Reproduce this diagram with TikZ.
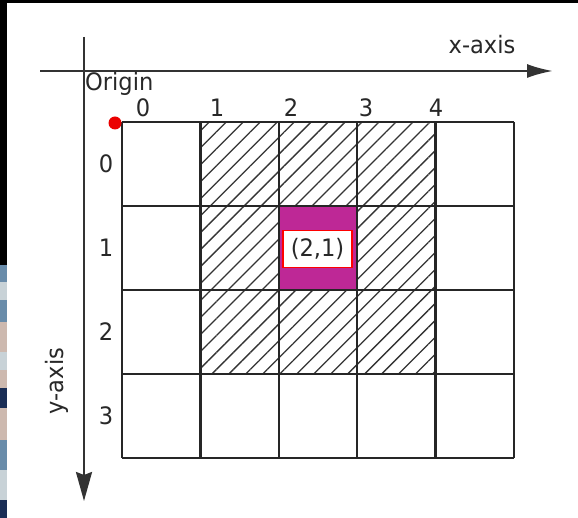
\documentclass[tikz,border=0pt]{standalone}
\usepackage{fontspec}
\setmainfont{DejaVu Sans}[FakeStretch=0.94]
\usetikzlibrary{arrows.meta,patterns.meta}
\definecolor{cellmagenta}{RGB}{190,40,150}
\definecolor{dotred}{RGB}{235,0,0}
\definecolor{inkgray}{RGB}{40,40,40}
\definecolor{photonavy}{RGB}{25,45,85}
\definecolor{photoblue}{RGB}{105,140,170}
\definecolor{photopale}{RGB}{200,210,215}
\definecolor{photobeige}{RGB}{205,185,175}

\begin{document}
\begin{tikzpicture}[
  x={(1pt,0pt)},
  y={(0pt,-1pt)},
  font=\fontsize{24}{28}\selectfont,
  text=inkgray,
  inner sep=0pt,
  gridline/.style={line width=2.3pt,black!85},
  axisline/.style={line width=2.3pt,black!80},
  hatched/.style={pattern={Lines[angle=45,distance=12pt,line width=1.3pt]},
    pattern color=black!80}
]
  \def\cellw{78.4}
  \def\cellh{84}
  \def\gx{122}
  \def\gy{122}

  \useasboundingbox (0,0) rectangle (578,518);
  \fill[white] (0,0) rectangle (578,518);
  \fill[black] (0,0) rectangle (578,3);
  \fill[black] (0,0) rectangle (7,265);
  \foreach \ya/\yb/\c in {
    265/282/photoblue, 282/300/photopale, 300/322/photoblue,
    322/352/photobeige, 352/370/photopale, 370/388/photobeige,
    388/408/photonavy, 408/440/photobeige, 440/470/photoblue,
    470/500/photopale, 500/518/photonavy} {
    \fill[\c] (0,\ya) rectangle (7,\yb);
  }

  \foreach \i/\j in {1/0,2/0,3/0,1/1,3/1,1/2,2/2,3/2} {
    \fill[hatched] ({\gx+\i*\cellw},{\gy+\j*\cellh}) rectangle +(\cellw,\cellh);
  }
  \fill[cellmagenta] ({\gx+2*\cellw},{\gy+\cellh}) rectangle +(\cellw,\cellh);

  \foreach \i in {0,...,5} {
    \draw[gridline] ({\gx+\i*\cellw},\gy) -- ++(0,{4*\cellh});
  }
  \foreach \j in {0,...,4} {
    \draw[gridline] (\gx,{\gy+\j*\cellh}) -- ++({5*\cellw},0);
  }

  \node[draw=red,line width=1.6pt,fill=white,minimum width=69pt,
    minimum height=37pt] (cell21) at (317.5,249) {(2,1)};

  \coordinate (xstart) at (40,71);
  \coordinate (xend) at (553,71);
  \coordinate (ystart) at (84,37);
  \coordinate (yend) at (84,501);
  \draw[axisline,-{Latex[length=26pt,width=14pt]}] (xstart) -- (xend);
  \draw[axisline,-{Stealth[length=29pt,width=16pt,inset=3pt]}] (ystart) -- (yend);

  \node (xlabel) at (482,45) {x-axis};
  \node[rotate=90] (ylabel) at (57,381) {y-axis};
  \node[anchor=base west] (origin) at (85,91) {Origin};
  \foreach \n/\x in {0/143,1/217,2/291,3/366,4/436} {
    \node (col\n) at (\x,107.5) {\n};
  }
  \foreach \n in {0,...,3} {
    \node (row\n) at (106,{164+\n*84}) {\n};
  }
  \fill[dotred] (115,123) circle (6.5pt);
\end{tikzpicture}
\end{document}
